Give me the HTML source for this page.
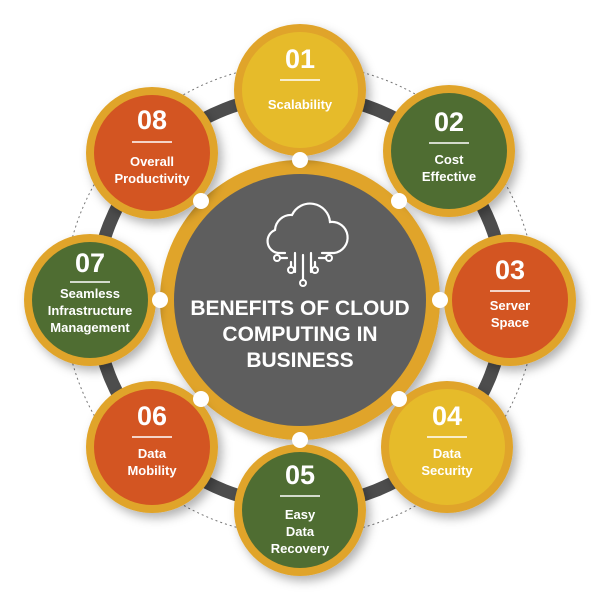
<!DOCTYPE html>
<html><head><meta charset="utf-8"><style>
html,body{margin:0;padding:0;background:#fff;}
svg{display:block;}
text{font-family:"Liberation Sans",sans-serif;font-weight:bold;fill:#fff;text-anchor:middle;}
</style></head><body>
<svg width="600" height="600" viewBox="0 0 600 600" xmlns="http://www.w3.org/2000/svg">
<defs>
<filter id="sh" x="-30%" y="-30%" width="160%" height="160%"><feDropShadow dx="4" dy="5" stdDeviation="5" flood-color="#000" flood-opacity="0.3"/></filter>
</defs>
<circle cx="300" cy="300" r="236" fill="none" stroke="#777" stroke-width="1" stroke-dasharray="2,3"/>
<circle cx="300" cy="300" r="205" fill="none" stroke="#4d4d4d" stroke-width="13"/>
<circle cx="300" cy="300" r="140" fill="#e0a42a" filter="url(#sh)"/>
<circle cx="300" cy="300" r="126" fill="#5e5e5e"/>
<g fill="none" stroke="#fff" stroke-width="2.2" stroke-linecap="round">
<path d="M285 253 H278 A12 12 0 0 1 275 230 A16 16 0 0 1 292 215 A20 20 0 0 1 330 222 A15 15 0 0 1 334 253 H322"/>
<path d="M295 253 V272 M303 255 V280 M311 253 V272 M287 258 H280 M319 258 H326 M291 262 V266 M315 262 V266"/>
</g>
<g fill="none" stroke="#fff" stroke-width="2">
<circle cx="277" cy="258" r="3"/><circle cx="329" cy="258" r="3"/><circle cx="291" cy="270" r="3"/><circle cx="315" cy="270" r="3"/><circle cx="303" cy="283" r="3"/>
</g>
<text x="300" y="315" font-size="21">BENEFITS OF CLOUD</text>
<text x="300" y="341" font-size="21">COMPUTING IN</text>
<text x="300" y="367" font-size="21">BUSINESS</text>

<g filter="url(#sh)">
<circle cx="300" cy="90" r="66" fill="#e0a42a"/><circle cx="300" cy="90" r="58" fill="#e6bb2c"/>
<circle cx="449" cy="151" r="66" fill="#e0a42a"/><circle cx="449" cy="151" r="58" fill="#4f6d33"/>
<circle cx="510" cy="300" r="66" fill="#e0a42a"/><circle cx="510" cy="300" r="58" fill="#d35423"/>
<circle cx="447" cy="447" r="66" fill="#e0a42a"/><circle cx="447" cy="447" r="58" fill="#e6bb2c"/>
<circle cx="300" cy="510" r="66" fill="#e0a42a"/><circle cx="300" cy="510" r="58" fill="#4f6d33"/>
<circle cx="152" cy="447" r="66" fill="#e0a42a"/><circle cx="152" cy="447" r="58" fill="#d35423"/>
<circle cx="90" cy="300" r="66" fill="#e0a42a"/><circle cx="90" cy="300" r="58" fill="#4f6d33"/>
<circle cx="152" cy="153" r="66" fill="#e0a42a"/><circle cx="152" cy="153" r="58" fill="#d35423"/>
</g>
<g fill="#fff">
<circle cx="300" cy="160" r="8"/><circle cx="399" cy="201" r="8"/><circle cx="440" cy="300" r="8"/><circle cx="399" cy="399" r="8"/>
<circle cx="300" cy="440" r="8"/><circle cx="201" cy="399" r="8"/><circle cx="160" cy="300" r="8"/><circle cx="201" cy="201" r="8"/>
</g>
<g stroke="#fff" stroke-width="1.5">
<line x1="280" y1="80" x2="320" y2="80"/>
<line x1="429" y1="143" x2="469" y2="143"/>
<line x1="490" y1="291" x2="530" y2="291"/>
<line x1="427" y1="437" x2="467" y2="437"/>
<line x1="280" y1="496" x2="320" y2="496"/>
<line x1="132" y1="437" x2="172" y2="437"/>
<line x1="70" y1="282" x2="110" y2="282"/>
<line x1="132" y1="142" x2="172" y2="142"/>
</g>
<g font-size="27">
<text x="300" y="68">01</text>
<text x="449" y="131">02</text>
<text x="510" y="279">03</text>
<text x="447" y="425">04</text>
<text x="300" y="484">05</text>
<text x="152" y="425">06</text>
<text x="90" y="272">07</text>
<text x="152" y="129">08</text>
</g>
<g font-size="13">
<text x="300" y="109">Scalability</text>
<text x="449" y="164">Cost</text><text x="449" y="181">Effective</text>
<text x="510" y="310">Server</text><text x="510" y="327">Space</text>
<text x="447" y="458">Data</text><text x="447" y="475">Security</text>
<text x="300" y="519">Easy</text><text x="300" y="536">Data</text><text x="300" y="553">Recovery</text>
<text x="152" y="458">Data</text><text x="152" y="475">Mobility</text>
<text x="90" y="298">Seamless</text><text x="90" y="315">Infrastructure</text><text x="90" y="332">Management</text>
<text x="152" y="166">Overall</text><text x="152" y="183">Productivity</text>
</g>
</svg>
</body></html>
